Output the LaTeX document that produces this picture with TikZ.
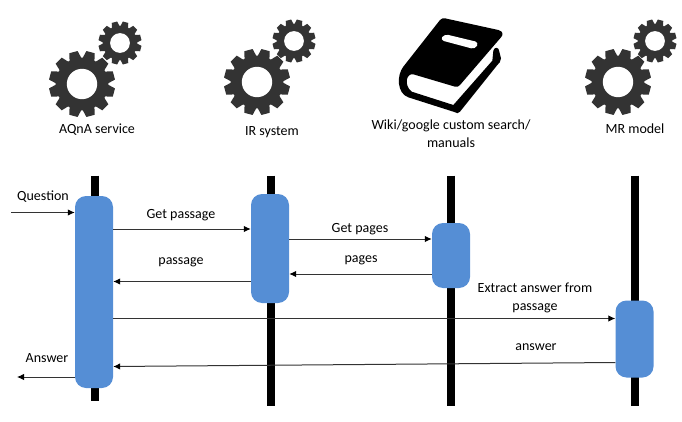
\documentclass[tikz,border=0pt]{standalone}
\usepackage{fontspec}
\setmainfont{Carlito}
\usetikzlibrary{arrows.meta}
\definecolor{boxblue}{HTML}{558ED5}
\definecolor{gearcol}{HTML}{333333}
\definecolor{linecol}{HTML}{333333}
\tikzset{
	lifeline/.style={line width=8pt,black},
	actbox/.style={draw=none,fill=boxblue,rounded corners=11pt,minimum width=38pt,inner sep=0pt},
	msg/.style={line width=1pt,linecol,-{Latex[black,length=7pt,width=6.5pt]}},
	lbl/.style={font=\fontsize{14}{18}\selectfont,inner sep=0pt,align=center},
}
% x y rayon
\newcommand{\gearwheel}[3]{
	\fill[gearcol] (#1,#2) circle ({0.8*#3});
	\foreach \a in {0,30,...,330}{
		\fill[gearcol,shift={(#1,#2)},rotate=\a+15] ({0.7*#3},{-0.2*#3}) -- (#3,{-0.13*#3}) -- (#3,{0.13*#3}) -- ({0.7*#3},{0.2*#3}) -- cycle;
	}
	\fill[white] (#1,#2) circle ({0.46*#3});
}
\begin{document}
\begin{tikzpicture}[x=1pt,y=-1pt]
	\useasboundingbox (0,0) rectangle (682,422);

	% Engrenages
	\gearwheel{82}{84}{33}
	\gearwheel{120}{43}{21.5}
	\gearwheel{257}{82}{33}
	\gearwheel{294}{41}{21.5}
	\gearwheel{618}{82}{33}
	\gearwheel{655}{41}{21.5}

	% Livre
	\begin{scope}[shift={(395,10)},scale=1/3]
		\fill[black] (150,25) -- (310,60) .. controls (325,64) and (325,74) .. (318,82) -- (195,225)
			.. controls (192,230) and (186,231) .. (180,230) -- (55,193) .. controls (35,188) and (25,225) .. (50,245)
			-- (175,285) -- (292,152) -- (295,122) .. controls (298,110) and (312,110) .. (313,125) -- (318,145)
			.. controls (318,155) and (312,160) .. (307,165) -- (195,305) .. controls (190,312) and (185,310) .. (178,306)
			-- (40,262) .. controls (5,250) and (5,195) .. (25,170) -- (135,30) .. controls (140,25) and (145,24) .. (150,25) -- cycle;
		\fill[white,rounded corners=4pt] (148,72) -- (252,97) -- (240,118) -- (135,90) -- cycle;
	\end{scope}

	% Lignes de vie
	\node[inner sep=0pt] (top1) at (95,175) {};
	\node[inner sep=0pt] (bot1) at (95,402) {};
	\node[inner sep=0pt] (top2) at (271,175) {};
	\node[inner sep=0pt] (bot2) at (271,407) {};
	\node[inner sep=0pt] (top3) at (451,175) {};
	\node[inner sep=0pt] (bot3) at (451,407) {};
	\node[inner sep=0pt] (top4) at (635,175) {};
	\node[inner sep=0pt] (bot4) at (635,407) {};
	\foreach \i in {1,2,3,4}
		\draw[lifeline] (top\i) -- (bot\i);

	% Boites
	\node[actbox,minimum height=192pt] (aqna) at (94,292) {};
	\node[actbox,minimum height=109pt] (ir) at (270,248.5) {};
	\node[actbox,minimum height=65pt] (wiki) at (451,255.5) {};
	\node[actbox,minimum height=77pt] (mr) at (634.5,339) {};

	% Extremites libres
	\coordinate (qstart) at (11,212.5);
	\coordinate (aend) at (17,377);

	% Messages
	\draw[msg] (qstart) -- (aqna.west |- qstart);
	\draw[msg] (aqna.east |- 0,229) -- (ir.west |- 0,229);
	\draw[msg] (ir.west |- 0,281.5) -- (aqna.east |- 0,281.5);
	\draw[msg] (ir.east |- 0,239) -- (wiki.west |- 0,239);
	\draw[msg] (wiki.west |- 0,274) -- (ir.east |- 0,274);
	\draw[msg] (aqna.east |- 0,318.5) -- (mr.west |- 0,318.5);
	\draw[msg] (mr.west |- 0,362.5) -- (aqna.east |- 0,366.5);
	\draw[msg] (aqna.west |- aend) -- (aend);

	% Textes
	\node[lbl] (taqna) at (97,130) {AQnA service};
	\node[lbl] (tir) at (272,132) {IR system};
	\node[lbl] (twiki) at (451,134) {Wiki/google custom search/\\manuals};
	\node[lbl] (tmr) at (635,129) {MR model};
	\node[lbl] (tq) at (43,197) {Question};
	\node[lbl] (tgp) at (181,215) {Get passage};
	\node[lbl] (tp) at (181,262) {passage};
	\node[lbl] (tgpg) at (360,229) {Get pages};
	\node[lbl] (tpg) at (361,260) {pages};
	\node[lbl] (tex) at (535,298) {Extract answer from\\passage};
	\node[lbl] (tan) at (536,347) {answer};
	\node[lbl] (tanswer) at (47,358) {Answer};
\end{tikzpicture}
\end{document}
